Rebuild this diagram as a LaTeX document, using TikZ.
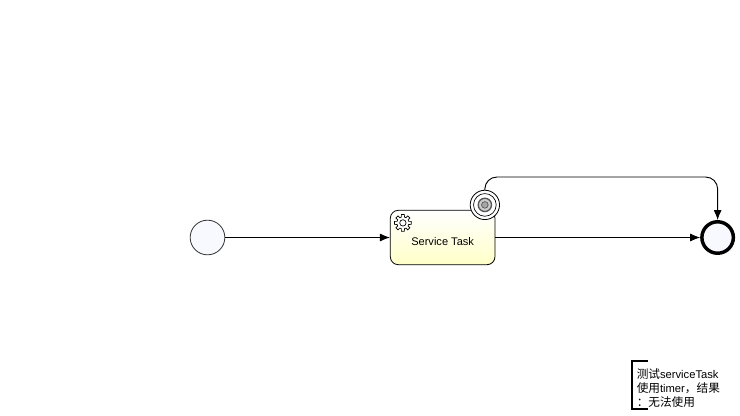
\documentclass[tikz,border=0pt]{standalone}
\usepackage{fontspec}
\setmainfont{Liberation Sans}
\newfontfamily\cjk[Scale=1.04]{Noto Sans CJK SC}
\usetikzlibrary{positioning}
\usetikzlibrary{calc}
\usetikzlibrary{arrows.meta}

\definecolor{eventfill}{HTML}{F8F9FF}
\definecolor{taskfill}{HTML}{FFFFC8}
\definecolor{timergray}{HTML}{555555}

\tikzset{
    flow/.style={-{Latex[length=7.5pt,width=6pt]}, line width=0.7pt, black},
    startevent/.style={circle, draw=black!80, line width=0.6pt, fill=eventfill, minimum size=26pt, inner sep=0pt},
    endevent/.style={circle, draw=black, line width=2.6pt, fill=eventfill, minimum size=23.6pt, inner sep=0pt},
    servicetask/.style={draw=black, line width=0.6pt, rounded corners=6pt, top color=white, bottom color=taskfill, minimum width=78.5pt, minimum height=40.8pt, inner sep=0pt, font=\fontsize{8.3pt}{10pt}\selectfont},
    boundaryevent/.style={circle, draw=black, line width=0.6pt, fill=white, minimum size=22pt, inner sep=0pt},
}

\begin{document}
\begin{tikzpicture}[x=0.75pt, y=-0.75pt]
        \useasboundingbox (0,0) rectangle (740,415);

        \node[startevent] (start) at (207.5,237.5) {};
        \node[servicetask, right = 123.5pt of start] (task) {\raisebox{-6pt}[0pt][0pt]{Service Task}};
        \node[endevent, right = 153.6pt of task] (end) {};

        % icon of the task
        \coordinate (gear) at ($(task.north west)+(13,13)$);
        \draw[line width=0.5pt, fill=white] ($(gear)+(-15:6)$)
            \foreach \a in {0,45,...,315} {
                -- ($(gear)+(\a-15:6)$) -- ($(gear)+(\a-10:8.5)$) -- ($(gear)+(\a+10:8.5)$) -- ($(gear)+(\a+15:6)$)
            } -- cycle;
        \draw[line width=0.5pt] (gear) circle (3.2);

        % timer on the border
        \node[boundaryevent] (timer) at ($(task.north east)+(-10.5,-5)$) {};
        \node[circle, draw=black, line width=0.5pt, minimum size=17pt, inner sep=0pt] (timer_in) at (timer) {};
        \node[circle, draw=timergray, line width=1pt, fill=black!20, minimum size=10pt, inner sep=0pt] (timer_clock) at (timer) {};
        \node[circle, draw=timergray, line width=0.5pt, fill=black!35, minimum size=5pt, inner sep=0pt] (timer_hand) at (timer) {};

        \coordinate (turn) at (600,177);

        \draw[flow] (start) -- (task);
        \draw[flow] (task) -- (end);
        \draw[flow, rounded corners=9pt] (timer.north) |- (turn) -| (end.north);

        % annotation
        \node[anchor=north west, inner sep=0pt, text width=66pt, font=\fontsize{8.4pt}{10.5pt}\selectfont] (note) at (636.5,368.5)
            {{\cjk 测试}serviceTask\\{\cjk 使用}timer{\cjk ，结果}\\{\cjk ：无法使用}};
        \coordinate (tl) at (648,361);
        \coordinate (bl) at (648,409);
        \draw[line width=1.6pt] (tl) -- (632,361) -- (632,409) -- (bl);
\end{tikzpicture}
\end{document}
